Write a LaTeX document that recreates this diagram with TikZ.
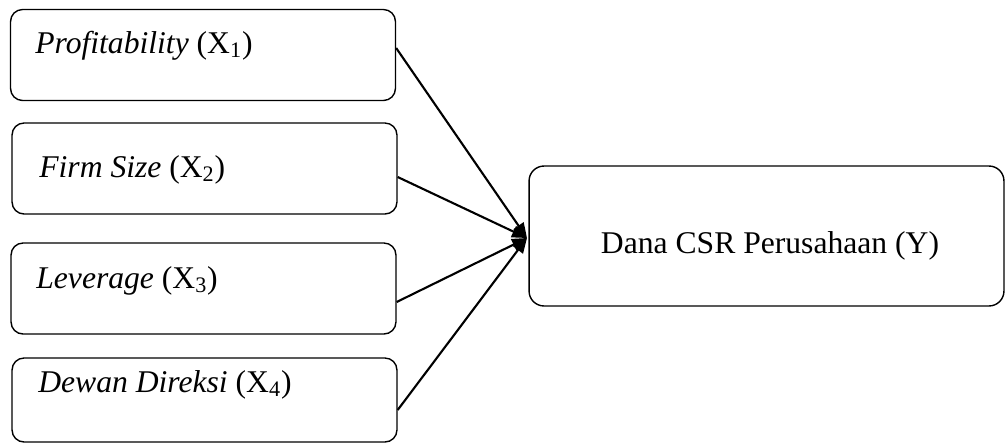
\documentclass[tikz,border=0pt]{standalone}
\usepackage{fontspec}
\setmainfont{Liberation Serif}
\usetikzlibrary{arrows.meta, positioning}

\tikzset{
  varbox/.style={draw, line width=0.8pt, rounded corners=0.24cm, minimum width=7.7cm, minimum height=1.82cm, inner sep=0pt},
  ybox/.style={draw, line width=0.8pt, rounded corners=0.3cm, minimum width=9.5cm, minimum height=2.8cm, inner sep=0pt},
  lbl/.style={font=\fontsize{18}{21}\selectfont, inner sep=0pt, anchor=base west},
  link/.style={line width=1.2pt, -{Triangle[length=0.3cm, width=0.24cm]}}
}

\begin{document}
\begin{tikzpicture}[x=0.02cm, y=-0.02cm]
  \useasboundingbox (0,0) rectangle (1006,443);

  % Independent variables
  \node[varbox] (x1) at (203,55) {};
  \node[varbox] (x2) at (204.5,168.5) {};
  \node[varbox] (x3) at (203.5,288.5) {};
  \node[varbox, minimum height=1.68cm] (x4) at (204.5,400) {};
  \node[lbl] (t1) at (35,53) {\textit{Profitability} (X\textsubscript{1})};
  \node[lbl] (t2) at (39,177) {\textit{Firm Size} (X\textsubscript{2})};
  \node[lbl] (t3) at (36,288) {\textit{Leverage} (X\textsubscript{3})};
  \node[lbl] (t4) at (38,392) {\textit{Dewan Direksi} (X\textsubscript{4})};

  % Dependent variable
  \node[ybox] (y) at (766.5,236) {};
  \node[lbl, anchor=base] (ty) at (770,253) {Dana CSR Perusahaan (Y)};

  % Arrows
  \coordinate (tip) at (527,238);
  \draw[link] ([yshift=0.14cm]x1.east) -- (tip);
  \draw[link] ([yshift=-0.17cm]x2.east) -- (tip);
  \draw[link] ([yshift=-0.27cm]x3.east) -- (tip);
  \draw[link] ([yshift=-0.2cm]x4.east) -- (tip);
\end{tikzpicture}
\end{document}
